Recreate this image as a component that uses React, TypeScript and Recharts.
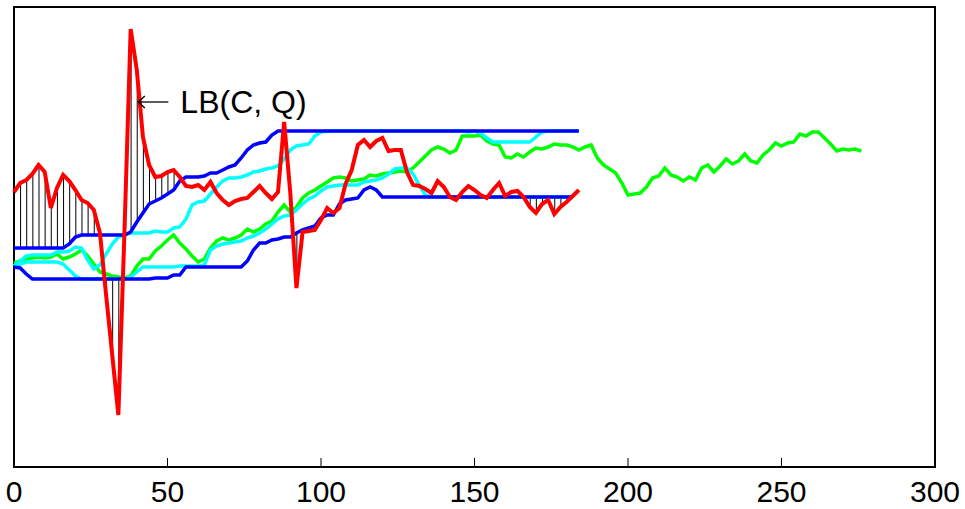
import React from 'react';
import { ComposedChart, Line, Bar, XAxis, YAxis, ReferenceArea, ReferenceDot } from 'recharts';

// sample spacing along x (data units)
const STEP = 2;

// Query series Q (red), x = 0..184
const red = [273, 282, 285, 291, 300, 293, 257, 277, 290, 284, 275, 265, 262, 255, 232, 170, 110, 50, 235, 436,
  395, 328, 300, 288, 289, 293, 295, 288, 279, 278, 280, 275, 283, 272, 265, 260, 264, 266, 267, 273,
  279, 272, 266, 273, 343, 272, 177, 233, 234, 235, 245, 257, 252, 257, 281, 295, 320, 325, 318, 324,
  327, 314, 315, 315, 293, 280, 279, 276, 272, 284, 278, 268, 265, 273, 279, 275, 270, 267, 275, 282,
  269, 273, 274, 268, 258, 252, 261, 265, 251, 258, 263, 269, 275];

// Envelope upper (blue), x = 0..184
const upper = [217, 217, 217, 217, 217, 217, 217, 217, 217, 221, 228, 230, 230, 230, 230, 230, 230, 230, 230,
  233, 243, 252, 261, 264, 267, 271, 275, 284, 288, 288, 288, 289, 292, 292, 295, 298, 300, 307, 315, 320, 322, 323, 330,
  334, 334, 334, 334, 334, 334, 334, 334, 334, 334, 334, 334, 334, 334, 334, 334, 334, 334, 334, 334,
  334, 334, 334, 334, 334, 334, 334, 334, 334, 334, 334, 334, 334, 334, 334, 334, 334, 334, 334, 334,
  334, 334, 334, 334, 334, 334, 334, 334, 334, 334];

// Envelope lower (blue), x = 0..184
const lower = [198, 197, 191, 186, 186, 186, 186, 186, 186, 186, 186, 186, 186, 186, 186, 186, 186, 186, 186, 186,
  186, 186, 186, 187, 187, 187, 190, 190, 198, 198, 198, 198, 198, 198, 198, 198, 198, 198,
  204, 215, 222, 222, 225, 226, 228, 228, 232, 235, 237, 239, 247, 250, 250, 261, 265, 266, 267, 275, 278, 275, 268,
  268, 268, 268, 268, 268, 268, 268, 268, 268, 268, 268, 268, 268, 268, 268, 268, 268, 268, 268, 268,
  268, 268, 268, 268, 268, 268, 268, 268, 268, 268, 268];

// Second envelope, upper (cyan), x = 0..184
const cyanUpper = [199, 204, 209, 210, 210, 210, 210, 213, 213, 214, 218, 217, 205, 196, 200, 211, 221, 228, 230,
  232, 232, 232, 232, 234, 233, 233, 237, 238, 246, 260, 263, 264, 271, 278, 284, 287, 287, 288, 290, 293,
  294, 296, 297, 299, 306, 315, 319, 320, 321, 329, 333,
  334, 334, 334, 334, 334, 334, 334, 334, 334, 334, 334, 334, 334, 334, 334, 334, 334, 334, 334, 334, 334, 334, 334,
  333, 334, 332, 327, 323, 323, 323, 323, 323, 323, 323, 328, 333, 334, 334, 334, 334, 334, 334];

// Second envelope, lower (cyan), x = 0..184
const cyanLower = [199, 201, 203, 203, 203, 203, 203, 203, 201, 195, 189, 186, 186, 186, 186, 186, 186, 186, 186,
  188, 193, 198, 198, 198, 198, 198, 198, 199, 199, 199, 199, 200, 215, 219, 221, 222, 223, 224, 227, 229, 232,
  236, 241, 246, 249, 250, 255, 261, 266, 269, 274, 278, 279, 280, 280, 280, 280, 283, 284, 285, 287, 291, 296,
  297, 297, 291, 280, 270, 268, 268, 268, 268, 268, 268, 268, 268, 268, 268, 268, 268, 268, 268, 268, 268, 268,
  268, 268, 268, 268, 268, 268, 268];

// Candidate series C (green), x = 0..276
const green = [202, 204, 206, 207, 208, 207, 208, 211, 206, 208, 211, 215, 209, 201, 193, 191, 189, 188, 187, 189,
  199, 206, 206, 214, 219, 225, 230, 222, 216, 209, 203, 206, 217, 224, 227, 225, 227, 230, 236, 233,
  236, 241, 244, 253, 260, 253, 258, 267, 272, 275, 279, 283, 287, 288, 287, 284, 285, 286, 290, 289,
  291, 292, 293, 294, 293, 297, 303, 309, 315, 318, 316, 312, 315, 329, 329, 329, 330, 324, 321, 320,
  308, 307, 311, 308, 313, 317, 316, 318, 321, 320, 320, 318, 315, 318, 320, 307, 300, 296, 292, 282,
  270, 271, 272, 278, 287, 289, 297, 290, 288, 284, 288, 285, 297, 300, 293, 299, 306, 301, 304, 311,
  304, 302, 310, 315, 322, 319, 322, 323, 331, 329, 333, 333, 327, 321, 314, 316, 315, 316, 314];

const xTicks = [0, 50, 100, 150, 200, 250, 300];
const X_DOMAIN = [0, 300];
const Y_DOMAIN = [-2, 458];
const ANNOT_X = 40.5;
const ANNOT_Y = 363;
const ANNOT_TEXT = 'LB(C, Q)';

const rows = green.map((g, i) => {
  const r = red[i];
  const u = upper[i];
  const l = lower[i];
  let hatch: number[] | null = null;
  if (r !== undefined && u !== undefined && l !== undefined) {
    if (r > u) hatch = [u, r];
    else if (r < l) hatch = [r, l];
  }
  return {
    x: i * STEP,
    green: g,
    red: r ?? null,
    upper: u ?? null,
    lower: l ?? null,
    cyanUpper: cyanUpper[i] ?? null,
    cyanLower: cyanLower[i] ?? null,
    hatch,
  };
});

const FONT = '"Liberation Sans", Arial, Helvetica, sans-serif';

const BottomTick = (props: any) => {
  const { x, y, payload } = props;
  return (
    <g>
      <line x1={x} y1={y} x2={x} y2={y - 9} stroke="#000" strokeWidth={1} />
      <text x={x} y={y + 35} textAnchor="middle" fontSize={30} fontFamily={FONT} fill="#000">
        {payload.value}
      </text>
    </g>
  );
};

const TopTick = (props: any) => {
  const { x, y } = props;
  return <line x1={x} y1={y} x2={x} y2={y + 9} stroke="#000" strokeWidth={1} />;
};

const AnnotLabel = (props: any) => {
  const vb = props.viewBox || {};
  const cx = vb.x + (vb.width || 0) / 2;
  const cy = vb.y + (vb.height || 0) / 2;
  return (
    <g>
      <line x1={cx} y1={cy} x2={cx + 30} y2={cy} stroke="#000" strokeWidth={1.3} />
      <polyline points={`${cx + 6.5},${cy - 6} ${cx},${cy} ${cx + 6.5},${cy + 6}`} fill="none" stroke="#000" strokeWidth={1.3} />
      <text x={cx + 42} y={cy + 11} fontSize={32} fontFamily={FONT} fill="#000">
        {ANNOT_TEXT}
      </text>
    </g>
  );
};

export default function App() {
  return (
    <div style={{ position: 'absolute', left: 0, top: 0, width: 965, height: 509, background: '#fff' }}>
      <ComposedChart width={965} height={509} data={rows} margin={{ top: 7, right: 30, left: 14, bottom: 0 }}>
        <XAxis
          dataKey="x"
          type="number"
          domain={X_DOMAIN}
          ticks={xTicks}
          axisLine={false}
          tickLine={false}
          tickSize={0}
          tickMargin={0}
          height={42}
          tick={<BottomTick />}
          interval={0}
        />
        <XAxis
          xAxisId="top"
          orientation="top"
          dataKey="x"
          type="number"
          domain={X_DOMAIN}
          ticks={xTicks}
          axisLine={false}
          tickLine={false}
          tickSize={0}
          tickMargin={0}
          height={0}
          tick={<TopTick />}
          interval={0}
        />
        <YAxis type="number" domain={Y_DOMAIN} hide width={0} />
        <Line dataKey="green" stroke="#00ff00" strokeWidth={3.5} dot={false} isAnimationActive={false} />
        <Line dataKey="cyanLower" stroke="#00ffff" strokeWidth={3.5} dot={false} isAnimationActive={false} />
        <Line dataKey="cyanUpper" stroke="#00ffff" strokeWidth={3.5} dot={false} isAnimationActive={false} />
        <Bar dataKey="hatch" fill="#000" barSize={1} isAnimationActive={false} />
        <Line dataKey="upper" stroke="#0000ff" strokeWidth={3.5} dot={false} isAnimationActive={false} />
        <Line dataKey="lower" stroke="#0000ff" strokeWidth={3.5} dot={false} isAnimationActive={false} />
        <Line dataKey="red" stroke="#ff0000" strokeWidth={4} dot={false} isAnimationActive={false} />
        <ReferenceArea x1={X_DOMAIN[0]} x2={X_DOMAIN[1]} y1={Y_DOMAIN[0]} y2={Y_DOMAIN[1]} fill="none" stroke="#000" strokeWidth={2} ifOverflow="visible" />
        <ReferenceDot x={ANNOT_X} y={ANNOT_Y} r={1} fill="none" stroke="none" label={<AnnotLabel />} ifOverflow="visible" />
      </ComposedChart>
    </div>
  );
}
